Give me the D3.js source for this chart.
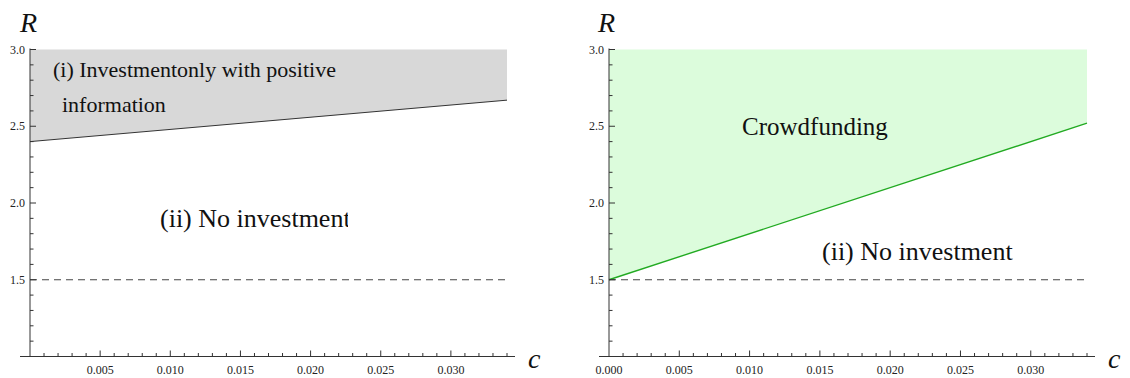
<!DOCTYPE html>
<html>
<head>
<meta charset="utf-8">
<script src="https://cdn.jsdelivr.net/npm/d3@7.9.0/dist/d3.min.js"></script>
<style>
  body { margin: 0; background: #fff; }
  svg { display: block; }
  text { font-family: 'Liberation Serif', 'Times New Roman', serif; fill: #111; }
  .tick-label { font-size: 12px; fill: #222; }
  .axis-title { font-size: 28px; font-style: italic; }
</style>
</head>
<body>
<svg id="chart" width="1130" height="378"></svg>
<script>
// data
const cDomain = [0, 0.034];
const rDomain = [1.0, 3.0];
const cMajorTicks = [0.005, 0.010, 0.015, 0.020, 0.025, 0.030];
const cMajorTicksRight = [0.000, 0.005, 0.010, 0.015, 0.020, 0.025, 0.030];
const rMajorTicks = [1.5, 2.0, 2.5, 3.0];
const noInvestmentR = 1.5;
// boundary R values at c = 0 and c = 0.034
const positiveInfoBoundary = [[0, 2.40], [0.034, 2.67]];
const crowdfundingBoundary = [[0, 1.50], [0.034, 2.52]];

const svg = d3.select('#chart');

function drawPanel(opts) {
  const x = d3.scaleLinear().domain(cDomain).range(opts.xRange);
  const y = d3.scaleLinear().domain(rDomain).range([356.5, 49.5]);
  const g = svg.append('g');

  // shaded region above boundary
  const area = d3.area()
    .x((d) => x(d[0]))
    .y0((d) => y(d[1]))
    .y1(() => y(rDomain[1]));
  g.append('path')
    .datum(opts.boundary)
    .attr('d', area)
    .attr('fill', opts.fill);

  g.append('path')
    .datum(opts.boundary)
    .attr('d', d3.line().x((d) => x(d[0])).y((d) => y(d[1])))
    .attr('fill', 'none')
    .attr('stroke', opts.lineColor)
    .attr('stroke-width', opts.lineWidth);

  // dashed no-investment line
  g.append('line')
    .attr('x1', x(cDomain[0])).attr('x2', x(cDomain[1]))
    .attr('y1', y(noInvestmentR)).attr('y2', y(noInvestmentR))
    .attr('stroke', '#444')
    .attr('stroke-width', 1)
    .attr('stroke-dasharray', '7,5');

  // axes
  const axisColor = '#333';
  g.append('line')
    .attr('x1', x(0) - 10).attr('x2', x(cDomain[1]) + 8)
    .attr('y1', y(1)).attr('y2', y(1))
    .attr('stroke', axisColor);
  g.append('line')
    .attr('x1', x(0)).attr('x2', x(0))
    .attr('y1', y(1)).attr('y2', y(3) - 1)
    .attr('stroke', axisColor);

  const cMinor = d3.range(1, 35).map((i) => i / 1000);
  g.selectAll('.cminor').data(cMinor).join('line')
    .attr('x1', (d) => x(d)).attr('x2', (d) => x(d))
    .attr('y1', y(1)).attr('y2', (d) => y(1) - (Math.round(d * 1000) % 5 === 0 ? 6 : 3.5))
    .attr('stroke', axisColor);

  const rMinor = d3.range(11, 31).map((i) => i / 10);
  g.selectAll('.rminor').data(rMinor).join('line')
    .attr('y1', (d) => y(d)).attr('y2', (d) => y(d))
    .attr('x1', x(0)).attr('x2', (d) => x(0) + (Math.round(d * 10) % 5 === 0 ? 6 : 3.5))
    .attr('stroke', axisColor);

  g.selectAll('.clabel').data(opts.cTicks).join('text')
    .attr('class', 'tick-label')
    .attr('x', (d) => x(d))
    .attr('y', y(1) + 17)
    .attr('text-anchor', 'middle')
    .text((d) => d3.format('.3f')(d));

  g.selectAll('.rlabel').data(rMajorTicks).join('text')
    .attr('class', 'tick-label')
    .attr('x', x(0) - 5)
    .attr('y', (d) => y(d) + 4)
    .attr('text-anchor', 'end')
    .text((d) => d3.format('.1f')(d));

  g.append('text').attr('class', 'axis-title')
    .attr('x', x(0) + opts.rLabelDx).attr('y', 32).text('R');
  g.append('text').attr('class', 'axis-title')
    .attr('x', x(cDomain[1]) + 21).attr('y', 368).text('c');

  return g;
}

// left panel
const left = drawPanel({
  xRange: [30, 507],
  boundary: positiveInfoBoundary,
  fill: '#d8d8d8',
  lineColor: '#333',
  lineWidth: 1,
  cTicks: cMajorTicks,
  rLabelDx: -10
});
left.append('text')
  .attr('x', 53).attr('y', 77)
  .style('font-size', '22px')
  .text('(i) Investmentonly with positive');
left.append('text')
  .attr('x', 62).attr('y', 112)
  .style('font-size', '22px')
  .text('information');

svg.append('clipPath').attr('id', 'cut')
  .append('rect').attr('x', 0).attr('y', 0).attr('width', 348).attr('height', 378);
left.append('text')
  .attr('clip-path', 'url(#cut)')
  .attr('x', 160).attr('y', 227)
  .style('font-size', '26px')
  .text('(ii) No investment');

// right panel
const right = drawPanel({
  xRange: [609, 1087],
  boundary: crowdfundingBoundary,
  fill: '#dcfcdc',
  lineColor: '#22aa22',
  lineWidth: 1.4,
  cTicks: cMajorTicksRight,
  rLabelDx: -11
});
right.append('text')
  .attr('x', 742).attr('y', 135)
  .style('font-size', '25px')
  .text('Crowdfunding');
right.append('text')
  .attr('x', 822).attr('y', 260)
  .style('font-size', '26px')
  .text('(ii) No investment');
</script>
</body>
</html>
